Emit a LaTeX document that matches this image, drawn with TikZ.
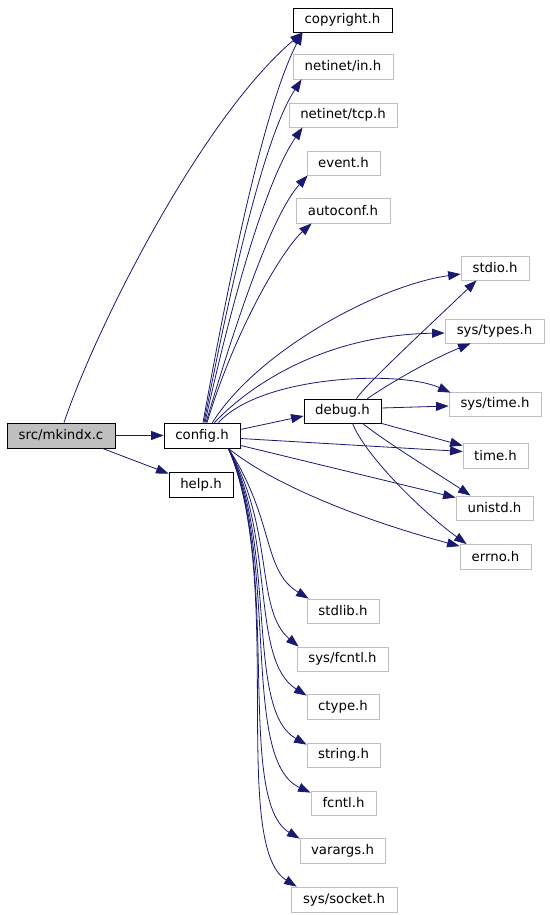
\documentclass[tikz,border=0pt]{standalone}
\usepackage{fontspec}
\setmainfont{DejaVu Sans}
\usetikzlibrary{arrows.meta,calc}
\definecolor{edgeblue}{HTML}{191970}
\definecolor{gborder}{HTML}{BFBFBF}
\definecolor{srcgray}{HTML}{BFBFBF}
\begin{document}
\begin{tikzpicture}[x=1pt,y=-1pt,
  box/.style={draw=black, line width=0.8pt, fill=white, inner sep=0pt, minimum height=25pt, font=\fontsize{13.3}{16}\selectfont},
  gbox/.style={box, draw=gborder},
  dep/.style={draw=edgeblue, line width=0.8pt, -{Triangle[length=12.5pt,width=9pt]}}]
\useasboundingbox (0,0) rectangle (549,915);
% nodes
\node[box, fill=srcgray, minimum width=108pt] (src) at (61,435.5) {src/mkindx.c};
\node[box, minimum width=76pt] (cfg) at (202,435.5) {config.h};
\node[box, minimum width=64pt] (help) at (201,484.5) {help.h};
\node[box, minimum width=99pt, minimum height=24pt] (copyright) at (342.5,20) {copyright.h};
\node[gbox, minimum width=100pt] (netin) at (343,66.5) {netinet/in.h};
\node[gbox, minimum width=108pt, minimum height=24pt] (nettcp) at (343,115) {netinet/tcp.h};
\node[gbox, minimum width=73pt, minimum height=24pt] (event) at (343.5,163) {event.h};
\node[gbox, minimum width=94pt] (autoconf) at (343,210.5) {autoconf.h};
\node[gbox, minimum width=68pt, minimum height=24pt] (stdio) at (495,268) {stdio.h};
\node[gbox, minimum width=99pt, minimum height=24pt] (systypes) at (494.5,331) {sys/types.h};
\node[gbox, minimum width=92pt, minimum height=24pt] (systime) at (495,404) {sys/time.h};
\node[box, minimum width=77pt, minimum height=24pt] (debug) at (342.5,411) {debug.h};
\node[gbox, minimum width=65pt] (time) at (495.5,455.5) {time.h};
\node[gbox, minimum width=77pt, minimum height=24pt] (unistd) at (494.5,508) {unistd.h};
\node[gbox, minimum width=71pt] (errno) at (495.5,557) {errno.h};
\node[gbox, minimum width=72pt, minimum height=24pt] (stdlib) at (343,611) {stdlib.h};
\node[gbox, minimum width=91pt, minimum height=24pt] (sysfcntl) at (342.5,659) {sys/fcntl.h};
\node[gbox, minimum width=72pt] (ctype) at (343,706.5) {ctype.h};
\node[gbox, minimum width=73pt, minimum height=24pt] (string) at (343.5,755) {string.h};
\node[gbox, minimum width=65pt, minimum height=24pt] (fcntl) at (343.5,803) {fcntl.h};
\node[gbox, minimum width=85pt] (varargs) at (342.5,850.5) {varargs.h};
\node[gbox, minimum width=106pt] (syssocket) at (344,899.5) {sys/socket.h};
% edges from src
\draw[dep] ($(src.north)+(3,0)$) .. controls (95,330) and (200,120) .. ($(copyright.south west)+(10,0)$);
\draw[dep] (src) -- (cfg);
\draw[dep] ($(src.south east)+(-13,0)$) -- ($(help.north west)+(0,2)$);
% config upward
\draw[dep] ($(cfg.north)+(1,0)$) .. controls (225,300) and (262,110) .. ($(copyright.south west)+(10,0)$);
\draw[dep] ($(cfg.north)+(2,0)$) .. controls (228,300) and (262,140) .. ($(netin.south west)+(9,0)$);
\draw[dep] ($(cfg.north)+(3,0)$) .. controls (232,300) and (266,180) .. ($(nettcp.south west)+(14,0)$);
\draw[dep] ($(cfg.north)+(4,0)$) .. controls (238,315) and (272,215) .. ($(event.south west)+(1,0)$);
\draw[dep] ($(cfg.north)+(5,0)$) .. controls (235,330) and (282,250) .. ($(autoconf.south west)+(16,0)$);
% config rightward
\draw[dep] ($(cfg.north east)+(-28,0)$) .. controls (258,350) and (380,285) .. ($(stdio.west)+(0,6)$);
\draw[dep] ($(cfg.north east)+(-26,0)$) .. controls (255,380) and (330,335) .. ($(systypes.west)+(0,2)$);
\draw[dep] ($(cfg.north east)+(-22,0)$) .. controls (262,375) and (400,370) .. ($(systime.north west)+(2,1)$);
\draw[dep] ($(cfg.east)+(0,-6)$) -- ($(debug.west)+(0,5)$);
\draw[dep] ($(cfg.east)+(0,3)$) -- ($(time.west)+(0,-4)$);
\draw[dep] ($(cfg.south east)+(0,-3)$) -- ($(unistd.north west)+(0,2)$);
\draw[dep] ($(cfg.south east)+(-12,0)$) .. controls (280,490) and (380,525) .. ($(errno.north west)+(0,2)$);
% debug
\draw[dep] ($(debug.north)+(14,0)$) .. controls (365,385) and (430,325) .. ($(stdio.south west)+(16,0)$);
\draw[dep] ($(debug.north east)+(-14,0)$) .. controls (390,383) and (430,360) .. ($(systypes.south west)+(26,0)$);
\draw[dep] ($(debug.east)+(0,-3)$) -- ($(systime.west)+(0,2)$);
\draw[dep] (debug.south east) -- ($(time.north west)+(0,3)$);
\draw[dep] ($(debug.south)+(20,0)$) .. controls (390,445) and (440,475) .. ($(unistd.north)+(-24,0)$);
\draw[dep] ($(debug.south)+(10,0)$) .. controls (365,455) and (420,510) .. ($(errno.north west)+(7,0)$);
% config downward
\draw[dep] ($(cfg.south east)+(-12,0)$) .. controls (275,520) and (262,570) .. ($(stdlib.north west)+(2,0)$);
\draw[dep] ($(cfg.south east)+(-12,0)$) .. controls (275,530) and (255,610) .. ($(sysfcntl.north west)+(2,0)$);
\draw[dep] ($(cfg.south east)+(-12,0)$) .. controls (276,540) and (250,660) .. ($(ctype.north west)+(0,2)$);
\draw[dep] ($(cfg.south east)+(-12,0)$) .. controls (278,550) and (245,710) .. ($(string.north west)+(0,2)$);
\draw[dep] ($(cfg.south east)+(-12,0)$) .. controls (280,560) and (240,760) .. ($(fcntl.north west)+(0,2)$);
\draw[dep] ($(cfg.south east)+(-12,0)$) .. controls (282,570) and (235,800) .. ($(varargs.north west)+(0,1)$);
\draw[dep] ($(cfg.south east)+(-12,0)$) .. controls (285,580) and (230,845) .. ($(syssocket.north west)+(6,0)$);
\end{tikzpicture}
\end{document}
